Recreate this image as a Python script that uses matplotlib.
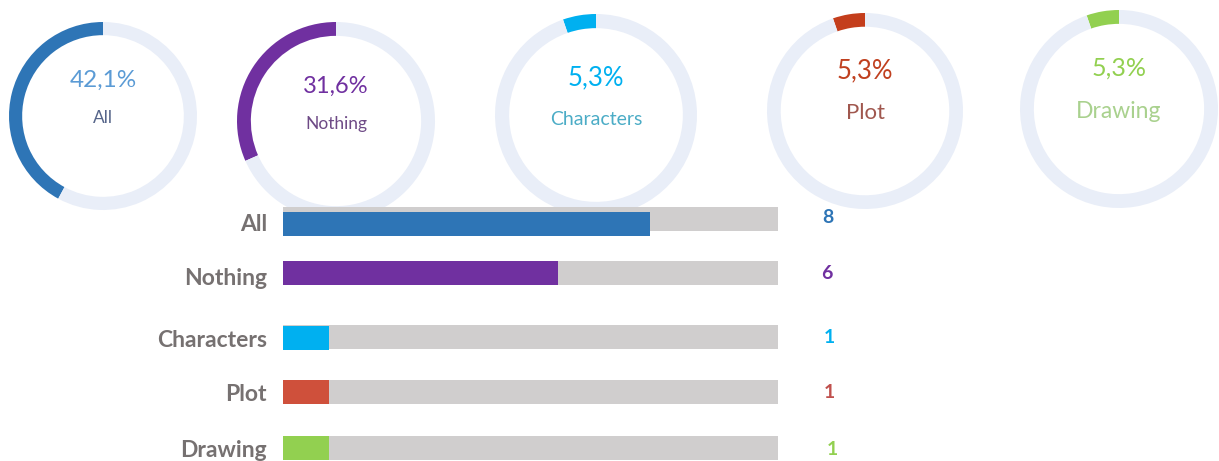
import matplotlib
matplotlib.use("Agg")
import matplotlib.pyplot as plt
from matplotlib.transforms import ScaledTranslation

# ---- data ----
categories = ["All", "Nothing", "Characters", "Plot", "Drawing"]
counts = [8, 6, 1, 1, 1]
percent_labels = ["42,1%", "31,6%", "5,3%", "5,3%", "5,3%"]
percents = [42.1, 31.6, 5.3, 5.3, 5.3]

# ---- style ----
W, H = 1219, 461
DPI = 100
ring_colors = ["#2E75B6", "#7030A0", "#00B0F0", "#C43E1C", "#92D050"]
pct_colors = ["#5B9BD5", "#7030A0", "#00B0F0", "#C0401F", "#92D050"]
name_colors = ["#56658A", "#6E4A86", "#4BACC6", "#A0574E", "#A9D18E"]
bar_colors = ["#2E75B6", "#7030A0", "#00B0F0", "#CF503B", "#92D050"]
value_colors = ["#2E75B6", "#7030A0", "#00B0F0", "#C0504D", "#92D050"]
track_ring = "#E9EEF8"
track_bar = "#D0CECE"
label_gray = "#767171"

# donut layout (pixel centers/radius)
donut_cx = [103, 336, 596, 865, 1119]
donut_cy = [116, 121, 115, 111, 109]
donut_r = [94, 99, 101, 98, 99]
pct_y = [80, 86, 78, 71, 68]
name_y = [118, 124, 119, 113, 111]
pct_size = [17.5, 17, 18.5, 18.5, 18]
name_size = [12.5, 12.5, 14, 16, 16.5]

fig = plt.figure(figsize=(W / DPI, H / DPI), dpi=DPI)
fig.patch.set_facecolor("white")

for i in range(len(categories)):
    cx, cy, r = donut_cx[i], donut_cy[i], donut_r[i]
    ax = fig.add_axes([(cx - r) / W, 1 - (cy + r) / H, 2 * r / W, 2 * r / H])
    ax.pie([percents[i], 100 - percents[i]], colors=[ring_colors[i], track_ring],
           startangle=90, counterclock=True, radius=1,
           wedgeprops=dict(width=0.14, edgecolor="none"))
    ax.set_xlim(-1, 1)
    ax.set_ylim(-1, 1)
    ax.set_aspect("equal")
    ax.axis("off")
    fig.text(cx / W, 1 - pct_y[i] / H, percent_labels[i], ha="center", va="center",
             fontsize=pct_size[i], color=pct_colors[i], family="Lato")
    fig.text(cx / W, 1 - name_y[i] / H, categories[i], ha="center", va="center",
             fontsize=name_size[i], color=name_colors[i], family="Lato")

# bar section
x0, x1 = 283, 778
track_max = 10.8
track_y = [219, 273, 337, 392, 448]
bar_y = [224, 272.5, 338, 392, 448]
label_y = [224, 278, 340, 394, 450]
value_y = [217, 273, 337, 392, 449]
value_x = [828, 827, 829, 829, 832]

bax = fig.add_axes([x0 / W, 0, (x1 - x0) / W, 1])
bax.patch.set_visible(False)
bax.set_xlim(0, track_max)
bax.set_ylim(H, 0)
bax.axis("off")
bax.barh(track_y, [track_max] * len(categories), height=24, color=track_bar, zorder=1)
bax.barh(bar_y, counts, height=24, color=bar_colors, zorder=2)

lab_tr = bax.transData + ScaledTranslation(-16 / DPI, 0, fig.dpi_scale_trans)
for i, cat in enumerate(categories):
    bax.text(0, label_y[i], cat, ha="right", va="center", transform=lab_tr,
             fontsize=16.5, fontweight="bold", color=label_gray, family="Lato")
    bax.text((value_x[i] - x0) / (x1 - x0), value_y[i], str(counts[i]),
             transform=bax.get_yaxis_transform(), ha="center", va="center",
             fontsize=14, fontweight="bold", color=value_colors[i], family="Lato")

fig.savefig("out.png", dpi=DPI, facecolor="white")
